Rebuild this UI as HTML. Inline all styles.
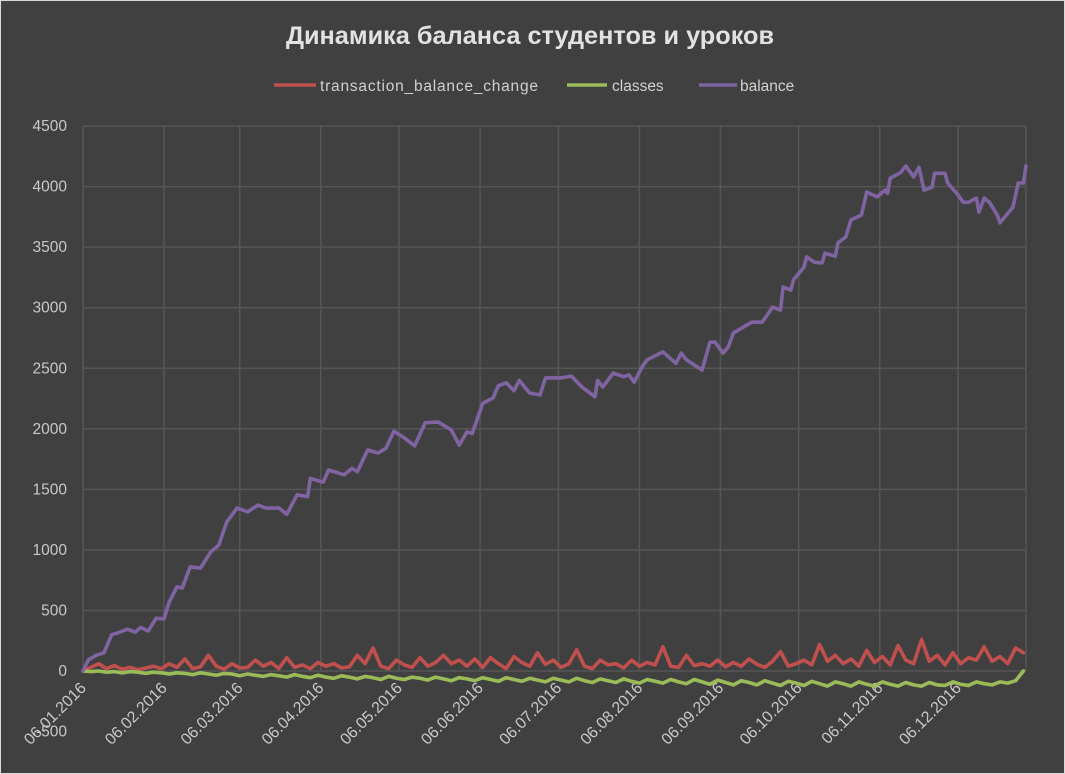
<!DOCTYPE html>
<html><head><meta charset="utf-8"><style>
html,body{margin:0;padding:0;background:#d9d9d9;}
svg{display:block;font-family:"Liberation Sans","DejaVu Sans",sans-serif;}
</style></head><body>
<svg id="chart" width="1065" height="774" viewBox="0 0 1065 774" xmlns="http://www.w3.org/2000/svg">
<rect x="1" y="1" width="1063" height="772" fill="#404040"/>
<text x="530" y="44" text-anchor="middle" font-size="25.3" font-weight="bold" fill="#e2e2e2">Динамика баланса студентов и уроков</text>
<g font-size="15.5" fill="#d0d0d0">
<g><line x1="274" y1="85" x2="316" y2="85" stroke="#c0504d" stroke-width="3.5"/><text x="320" y="91" textLength="218" lengthAdjust="spacing">transaction_balance_change</text></g>
<g><line x1="567" y1="85" x2="607" y2="85" stroke="#9bbb59" stroke-width="3.5"/><text x="612" y="91">classes</text></g>
<g><line x1="699" y1="85" x2="737" y2="85" stroke="#8064a2" stroke-width="3.5"/><text x="740" y="91">balance</text></g>
</g>
<g id="grid"></g>
<g id="yaxis"></g>
<g id="xaxis"></g>
<g id="series"></g>
</svg>
<script>
const yTicks=[-500,0,500,1000,1500,2000,2500,3000,3500,4000,4500];
const xTickLabels=["06.01.2016","06.02.2016","06.03.2016","06.04.2016","06.05.2016","06.06.2016","06.07.2016","06.08.2016","06.09.2016","06.10.2016","06.11.2016","06.12.2016"];
const xTickDays=[0,31,60,91,121,152,182,213,244,274,305,335];
const balanceDays=[0,2,5,8,11,14,17,20,22,25,28,31,33,36,38,41,45,49,52,55,59,63,67,70,75,78,82,86,87,92,94,100,103,105,109,113,116,119,123,127,131,136,141,144,147,149,153,157,159,162,165,167,171,175,177,183,187,191,196,197,199,203,207,209,211,214,216,222,227,229,231,237,240,242,245,247,249,252,256,260,264,267,268,271,272,276,277,280,283,284,288,289,292,294,298,300,304,307,308,309,313,315,318,320,322,325,326,330,331,335,337,339,342,343,345,347,350,351,356,358,360,361];
const balanceValues=[0,90,130,150,300,320,345,320,360,330,435,430,570,695,685,860,850,985,1040,1230,1345,1315,1370,1345,1345,1295,1455,1440,1590,1560,1660,1620,1675,1645,1825,1800,1840,1980,1925,1860,2050,2055,1990,1865,1975,1960,2210,2255,2355,2380,2315,2400,2295,2280,2420,2420,2435,2345,2265,2400,2345,2460,2430,2445,2385,2510,2570,2635,2540,2625,2570,2485,2715,2715,2625,2675,2790,2830,2880,2880,3005,2980,3170,3145,3230,3335,3420,3375,3370,3450,3425,3535,3585,3725,3765,3955,3915,3970,3945,4070,4115,4170,4080,4160,3970,3995,4110,4110,4030,3930,3870,3870,3905,3790,3905,3870,3765,3700,3830,4030,4030,4170];
const transactionValues=[0,30,60,20,45,15,30,10,25,40,20,60,30,100,20,35,130,40,15,60,25,30,90,40,70,20,110,30,50,20,70,40,60,25,35,130,60,190,40,20,90,50,30,110,40,70,130,60,90,40,100,30,110,60,20,120,70,40,150,55,90,30,60,175,40,20,90,50,60,25,90,40,70,50,200,40,30,130,45,60,40,90,35,70,40,100,55,30,80,160,40,60,90,50,220,80,130,60,100,40,170,70,120,50,210,90,60,260,80,130,50,150,60,110,90,200,80,120,60,190,150];
const classesValues=[0,-5,0,-10,-5,-15,-5,-10,-20,-10,-15,-25,-15,-20,-30,-15,-25,-35,-20,-25,-40,-25,-35,-45,-30,-40,-50,-30,-45,-55,-35,-50,-60,-40,-50,-65,-45,-55,-70,-45,-60,-70,-50,-60,-75,-50,-65,-80,-55,-65,-80,-55,-70,-85,-55,-70,-85,-60,-75,-90,-60,-75,-90,-60,-80,-95,-65,-80,-95,-65,-85,-100,-70,-85,-100,-70,-90,-105,-70,-90,-110,-75,-95,-115,-80,-95,-115,-80,-100,-120,-85,-100,-120,-85,-105,-125,-90,-105,-125,-90,-110,-125,-90,-110,-125,-95,-115,-125,-95,-115,-120,-90,-110,-120,-90,-105,-115,-90,-100,-80,0];
const seriesStepDays=3;

const NS="http://www.w3.org/2000/svg";
const X0=83,X1=1026,DAYMAX=361,Y0=671,PXU=60.55/500;
function xs(d){return X0+(X1-X0)*d/DAYMAX;}
function ys(v){return Y0-v*PXU;}
function mk(tag,attrs,parent){const e=document.createElementNS(NS,tag);for(const k in attrs)e.setAttribute(k,attrs[k]);parent.appendChild(e);return e;}
const grid=document.getElementById('grid'),ya=document.getElementById('yaxis'),xa=document.getElementById('xaxis'),ser=document.getElementById('series');
yTicks.forEach(v=>{
  if(v>=0){const l=mk('line',{x1:X0,x2:X1,y1:ys(v),y2:ys(v),stroke:'#565656','stroke-width':1.5},grid);
  
  }
  const t=mk('text',{x:67,y:ys(v)+5,'text-anchor':'end','font-size':15.5,fill:'#c8c8c8'},ya);
  t.textContent=v;
  
  
});
xTickDays.forEach((d,i)=>{
  const l=mk('line',{x1:xs(d),x2:xs(d),y1:ys(4500),y2:ys(0),stroke:'#565656','stroke-width':1.5},grid);
  
  
  const x=xs(d)+4,y=689;
  const t=mk('text',{x:x,y:y,'text-anchor':'end','font-size':16,fill:'#c8c8c8',transform:`rotate(-45 ${x} ${y})`},xa);
  t.textContent=xTickLabels[i];
  
  
});
mk('line',{x1:X1,x2:X1,y1:ys(4500),y2:ys(0),stroke:'#565656','stroke-width':1.5},grid);
function poly(days,vals,color,name){
  const pts=vals.map((v,i)=>xs(days[i]).toFixed(1)+','+ys(v).toFixed(1)).join(' ');
  const p=mk('polyline',{points:pts,fill:'none',stroke:color,'stroke-width':3.6,'stroke-linejoin':'round','stroke-linecap':'round'},ser);
  
  
}
const stepDays=transactionValues.map((v,i)=>Math.min(i*seriesStepDays,DAYMAX));
poly(stepDays,transactionValues,'#c0504d','transaction-line');
poly(stepDays,classesValues,'#9bbb59','classes-line');
poly(balanceDays,balanceValues,'#8064a2','balance-line');
</script>
</body></html>
